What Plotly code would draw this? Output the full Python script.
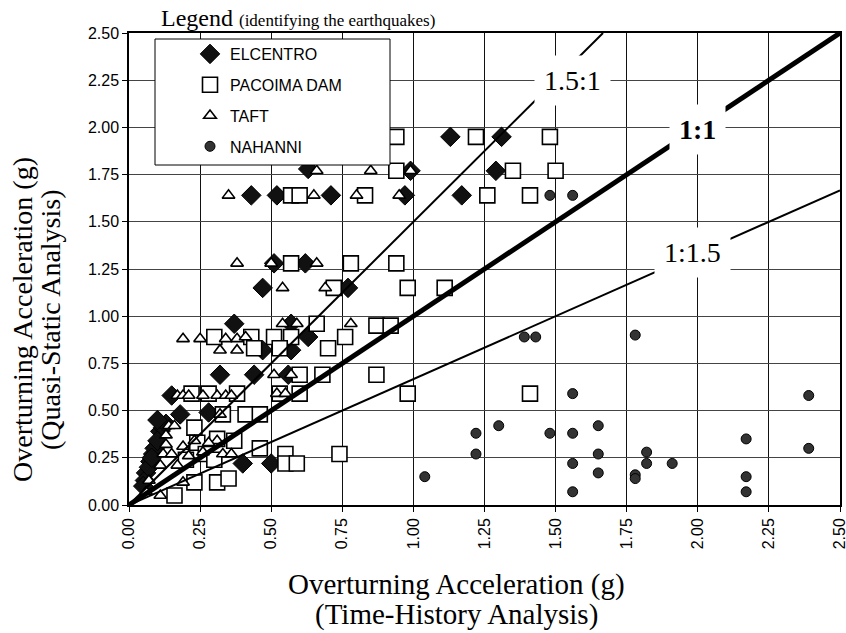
import plotly.graph_objects as go

# ---------------- data ----------------
elcentro_x = [1.13, 1.31, 0.99, 1.29, 0.63, 0.71, 0.97, 1.17, 0.43, 0.52,
              0.51, 0.62, 0.77, 0.47, 0.57, 0.37, 0.63, 0.47, 0.57, 0.44,
              0.56, 0.32, 0.40, 0.50, 0.15, 0.18, 0.28, 0.11, 0.12, 0.085,
              0.075, 0.06, 0.056, 0.09, 0.10, 0.07, 0.05, 0.13, 0.08, 0.10]
elcentro_y = [1.95, 1.95, 1.77, 1.77, 1.78, 1.64, 1.64, 1.64, 1.64, 1.64,
              1.28, 1.28, 1.15, 1.15, 0.96, 0.96, 0.89, 0.82, 0.82, 0.69,
              0.69, 0.69, 0.22, 0.22, 0.58, 0.48, 0.49, 0.39, 0.41, 0.27,
              0.23, 0.17, 0.13, 0.30, 0.34, 0.20, 0.10, 0.43, 0.25, 0.45]

pacoima_x = [0.94, 1.22, 1.48, 0.94, 1.35, 1.50, 0.83, 1.26, 1.41, 0.57,
             0.60, 0.57, 0.78, 0.94, 0.98, 1.11, 0.72, 0.87, 0.92, 0.66,
             0.76, 0.30, 0.43, 0.51, 0.57, 0.44, 0.53, 0.70, 0.60, 0.68,
             0.87, 0.98, 1.41, 0.22, 0.28, 0.38, 0.53, 0.60, 0.41, 0.46,
             0.33, 0.23, 0.31, 0.37, 0.46, 0.24, 0.55, 0.55, 0.59, 0.74,
             0.27, 0.20, 0.23, 0.31, 0.35, 0.16, 0.30]
pacoima_y = [1.95, 1.95, 1.95, 1.77, 1.77, 1.77, 1.64, 1.64, 1.64, 1.64,
             1.64, 1.28, 1.28, 1.28, 1.15, 1.15, 1.15, 0.95, 0.95, 0.96,
             0.89, 0.89, 0.89, 0.89, 0.89, 0.83, 0.83, 0.83, 0.69, 0.69,
             0.69, 0.59, 0.59, 0.59, 0.59, 0.59, 0.59, 0.59, 0.48, 0.48,
             0.48, 0.41, 0.35, 0.34, 0.30, 0.33, 0.27, 0.22, 0.22, 0.27,
             0.27, 0.24, 0.12, 0.12, 0.14, 0.05, 0.24]

taft_x = [0.85, 0.99, 0.66, 0.80, 0.95, 0.35, 0.65, 0.38, 0.50, 0.66,
          0.54, 0.69, 0.54, 0.59, 0.78, 0.19, 0.25, 0.34, 0.38, 0.41,
          0.32, 0.38, 0.51, 0.57, 0.52, 0.55, 0.17, 0.19, 0.21, 0.26,
          0.31, 0.34, 0.36, 0.32, 0.14, 0.16, 0.13, 0.23, 0.31, 0.12,
          0.15, 0.26, 0.33, 0.36, 0.11, 0.17, 0.19, 0.11, 0.07, 0.06,
          0.13, 0.21, 0.28, 0.19]
taft_y = [1.77, 1.77, 1.77, 1.64, 1.64, 1.64, 1.64, 1.28, 1.28, 1.28,
          1.15, 1.15, 0.96, 0.96, 0.96, 0.88, 0.88, 0.88, 0.88, 0.89,
          0.82, 0.82, 0.69, 0.69, 0.59, 0.59, 0.58, 0.58, 0.58, 0.58,
          0.58, 0.58, 0.58, 0.48, 0.42, 0.42, 0.37, 0.34, 0.34, 0.27,
          0.27, 0.28, 0.27, 0.27, 0.21, 0.21, 0.12, 0.05, 0.13, 0.07,
          0.32, 0.26, 0.33, 0.31]

nahanni_x = [1.39, 1.43, 1.48, 1.56, 1.56, 1.30, 1.22, 1.48, 1.56, 1.65,
             1.22, 1.65, 1.56, 1.65, 1.56, 1.04, 1.78, 2.39, 2.39, 2.17,
             2.17, 2.17, 1.82, 1.82, 1.91, 1.78, 1.78]
nahanni_y = [0.89, 0.89, 1.64, 1.64, 0.59, 0.42, 0.38, 0.38, 0.38, 0.42,
             0.27, 0.27, 0.22, 0.17, 0.07, 0.15, 0.90, 0.58, 0.30, 0.35,
             0.15, 0.07, 0.28, 0.22, 0.22, 0.16, 0.14]

ratio_labels = ["1.5:1", "1:1", "1:1.5"]
ratios = [1.5, 1.0, 1 / 1.5]
ratio_label_x = [1.56, 2.0, 1.98]
ratio_label_y = [2.25, 1.99, 1.335]
ratio_widths = [2, 5, 2]

x_ticks = [0.0, 0.25, 0.5, 0.75, 1.0, 1.25, 1.5, 1.75, 2.0, 2.25, 2.5]
y_ticks = [0.0, 0.25, 0.5, 0.75, 1.0, 1.25, 1.5, 1.75, 2.0, 2.25, 2.5]
AX_MAX = 2.5

SANS = "Liberation Sans, Arial, sans-serif"
SERIF = "Liberation Serif, Times New Roman, serif"

# plot-area geometry (px)
L, R, T, B = 129, 6, 33, 128
PW, PH = 846 - L - R, 633 - T - B


def px_x(p):
    return (p - L) / PW


def px_y(p):
    return (633 - B - p) / PH


fig = go.Figure()

fig.add_trace(go.Scatter(
    x=elcentro_x, y=elcentro_y, mode="markers", name="ELCENTRO",
    legendgroup="a",
    marker=dict(symbol="diamond", size=15, color="#111111",
                line=dict(color="#000000", width=1))))
fig.add_trace(go.Scatter(
    x=pacoima_x, y=pacoima_y, mode="markers", name="PACOIMA DAM",
    legendgroup="b",
    marker=dict(symbol="square", size=15, color="white",
                line=dict(color="#000000", width=1.6))))
fig.add_trace(go.Scatter(
    x=taft_x, y=taft_y, mode="markers", name="TAFT",
    legendgroup="c",
    marker=dict(symbol="triangle-up", size=11, color="white",
                line=dict(color="#000000", width=1.6))))
fig.add_trace(go.Scatter(
    x=nahanni_x, y=nahanni_y, mode="markers", name="NAHANNI",
    legendgroup="d",
    marker=dict(symbol="circle", size=10, color="#333333",
                line=dict(color="#000000", width=1))))

for r, w in zip(ratios, ratio_widths):
    xe = min(AX_MAX, AX_MAX / r)
    fig.add_trace(go.Scatter(
        x=[0, xe], y=[0, xe * r], mode="lines", showlegend=False,
        hoverinfo="skip", line=dict(color="black", width=w)))

annotations = []
for lab, lx, ly in zip(ratio_labels, ratio_label_x, ratio_label_y):
    txt = "<b>%s</b>" % lab if lab == "1:1" else lab
    annotations.append(dict(
        x=lx, y=ly, xref="x", yref="y", text=txt, showarrow=False,
        bgcolor="white", borderpad=9,
        font=dict(family=SERIF, size=28, color="black")))

# y-axis title (two lines, tight spacing)
for txt, cx in [("Overturning Acceleration (g)", 22),
                ("(Quasi-Static Analysis)", 50)]:
    annotations.append(dict(
        x=px_x(cx), y=px_y(320), xref="paper", yref="paper", textangle=-90,
        text=txt, showarrow=False, xanchor="center", yanchor="middle",
        font=dict(family=SERIF, size=28, color="black")))

# x-axis title
for txt, cy in [("Overturning Acceleration (g)", 584),
                ("(Time-History Analysis)", 614)]:
    annotations.append(dict(
        x=px_x(456), y=px_y(cy), xref="paper", yref="paper",
        text=txt, showarrow=False, xanchor="center", yanchor="middle",
        font=dict(family=SERIF, size=29, color="black")))

annotations.append(dict(
    x=px_x(159), y=px_y(18), xref="paper", yref="paper",
    text="Legend <span style='font-size:17px'>(identifying the earthquakes)</span>",
    showarrow=False, xanchor="left", yanchor="middle",
    font=dict(family=SERIF, size=24, color="black")))

# legend frame (white box that hides the points below it)
shapes = [dict(type="rect", xref="paper", yref="paper",
               x0=px_x(155), x1=px_x(390), y0=px_y(165), y1=px_y(39),
               fillcolor="white", line=dict(color="black", width=1),
               layer="above")]

axis_common = dict(
    range=[0, AX_MAX], showgrid=True, gridwidth=1, zeroline=False,
    showline=True, mirror=True, linecolor="black", linewidth=1.5,
    ticks="outside", ticklen=5, tickcolor="black", tickformat=".2f",
    automargin=False, ticklabeloverflow="allow",
    tickfont=dict(family=SANS, size=16, color="black"))

fig.update_layout(
    width=846, height=633,
    margin=dict(l=L, r=R, t=T, b=B),
    paper_bgcolor="white", plot_bgcolor="white",
    xaxis=dict(**axis_common, tickvals=x_ticks, tickangle=-90,
               gridcolor="#111111"),
    yaxis=dict(**axis_common, tickvals=y_ticks, gridcolor="#444444"),
    legend=dict(x=px_x(156), y=px_y(37), xanchor="left",
                yanchor="top", bgcolor="rgba(0,0,0,0)",
                borderwidth=0, tracegroupgap=7, indentation=34,
                font=dict(family=SANS, size=16, color="black")),
    annotations=annotations,
    shapes=shapes,
    showlegend=True,
)

fig.write_html("out.html",
               config={"displayModeBar": False},
               post_script="document.body.style.margin='0';"
                           "document.body.style.padding='0';")
